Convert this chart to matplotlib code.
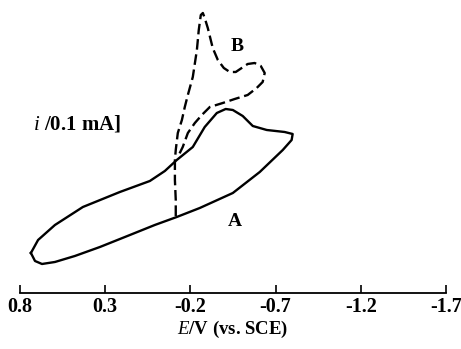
import matplotlib
matplotlib.use('Agg')
import matplotlib.pyplot as plt

plt.rcParams['font.family'] = 'Liberation Serif'
plt.rcParams['mathtext.fontset'] = 'custom'
plt.rcParams['mathtext.it'] = 'Liberation Serif:italic'
plt.rcParams['mathtext.rm'] = 'Liberation Serif:bold'

# Curve A (solid), closed loop: potential (V vs. SCE) and current (x0.1 mA)
E_a = [0.736, 0.712, 0.671, 0.595, 0.478, 0.331, 0.155, 0.009, -0.120, -0.255,
       -0.449, -0.607, -0.742, -0.794, -0.800, -0.753, -0.648, -0.566, -0.507,
       -0.449, -0.407, -0.355, -0.284, -0.214, -0.120, -0.050, 0.038, 0.214,
       0.431, 0.595, 0.694, 0.736]
i_a = [1.0, 0.8, 0.725, 0.775, 0.925, 1.15, 1.45, 1.7, 1.9, 2.125,
       2.5, 3.025, 3.575, 3.825, 3.975, 4.025, 4.075, 4.175, 4.425,
       4.575, 4.6, 4.5, 4.15, 3.65, 3.325, 3.05, 2.8, 2.525,
       2.15, 1.7, 1.325, 1.0]

# Curve B (dashed)
E_b = [-0.114, -0.114, -0.109, -0.109, -0.114, -0.126, -0.150, -0.167, -0.185,
       -0.214, -0.238, -0.249, -0.261, -0.273, -0.284, -0.302, -0.331, -0.361,
       -0.396, -0.431, -0.466, -0.501, -0.536, -0.577, -0.613, -0.636, -0.624,
       -0.589, -0.536, -0.460, -0.390, -0.314, -0.267, -0.226, -0.185, -0.155,
       -0.126]
i_b = [1.925, 2.325, 2.825, 3.325, 3.575, 4.0, 4.325, 4.65, 4.95,
       5.4, 6.075, 6.575, 6.95, 7.0, 6.875, 6.625, 6.125, 5.825,
       5.625, 5.525, 5.525, 5.625, 5.725, 5.75, 5.675, 5.5, 5.275,
       5.125, 4.95, 4.85, 4.75, 4.65, 4.45, 4.25, 4.0, 3.65,
       3.4]

xticks = [0.8, 0.3, -0.2, -0.7, -1.2, -1.7]
xtick_labels = ['0.8', '0.3', '-0.2', '-0.7', '-1.2', '-1.7']

fig = plt.figure(figsize=(4.61, 3.49), dpi=100)
ax = fig.add_axes([0.0434, 0.1605, 0.9241, 0.8395])

ax.plot(E_a, i_a, color='black', lw=1.7, clip_on=False)
ax.plot(E_b, i_b, color='black', lw=1.7, dashes=(4.5, 2.0), clip_on=False)

ax.text(-0.460, 1.775, 'A', fontsize=14, fontweight='bold', ha='center', va='center')
ax.text(-0.472, 6.15, 'B', fontsize=14, fontweight='bold', ha='center', va='center')
ax.text(0.724, 4.225, r'$i$ /0.1 mA]', fontsize=15, fontweight='bold',
        ha='left', va='center')

ax.set_xlim(0.8, -1.7)
ax.set_ylim(0, 7.325)
ax.set_xticks(xticks)
ax.set_xticklabels(xtick_labels, fontsize=14.5, fontweight='bold')
ax.tick_params(axis='x', direction='in', length=6, width=1.2, pad=3)
ax.set_yticks([])
for s in ['top', 'right', 'left']:
    ax.spines[s].set_visible(False)
ax.spines['bottom'].set_linewidth(1.3)
ax.set_xlabel(r'$E$/V (vs. SCE)', fontsize=13.5, fontweight='bold', labelpad=1)

fig.savefig('out.png', dpi=100)
